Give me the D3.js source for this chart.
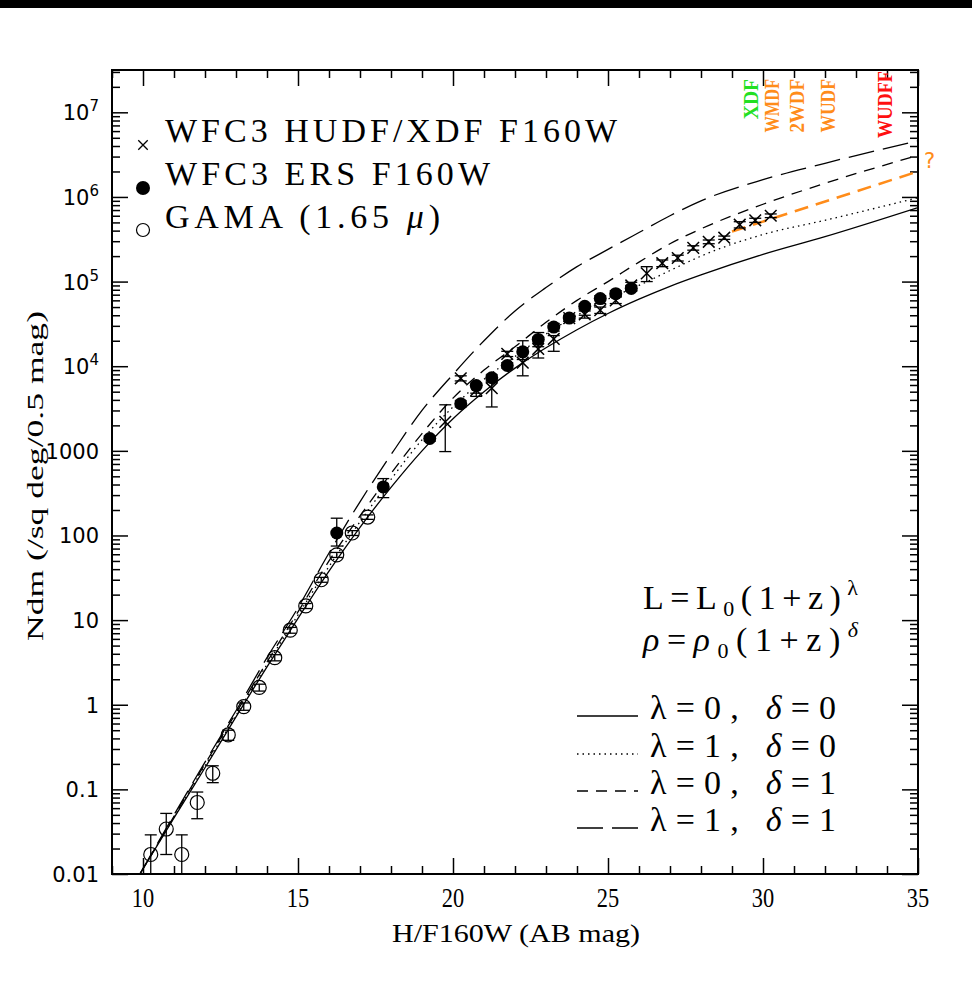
<!DOCTYPE html>
<html>
<head>
<meta charset="utf-8">
<script src="https://cdn.jsdelivr.net/npm/d3@7/dist/d3.min.js"></script>
<style>
  body { margin: 0; background: #fff; }
</style>
</head>
<body>
<script>
/* data */
// model curves (magnitude grid shared by the four models)
const modelMag = [9.9, 11, 12, 13, 14, 15, 16, 17, 18, 19, 20, 21, 22, 23, 24, 25, 26, 27, 28, 30, 32, 35];
const modelL0D0 = [0.01, 0.046, 0.18, 0.72, 2.8, 10.5, 38, 125, 370, 1000, 2400, 5000, 9500, 16500, 27000, 42000, 62000, 88000, 120000, 210000, 340000, 750000];
const modelL1D0 = [0.01, 0.047, 0.19, 0.75, 3.0, 11.5, 43, 145, 460, 1350, 3300, 7000, 13000, 24000, 40000, 62000, 90000, 135000, 200000, 360000, 530000, 980000];
const modelL0D1 = [0.01, 0.048, 0.2, 0.8, 3.2, 12.5, 50, 170, 540, 1600, 4200, 9000, 17000, 33000, 60000, 100000, 170000, 280000, 420000, 820000, 1450000, 3100000];
const modelL1D1 = [0.01, 0.05, 0.21, 0.85, 3.6, 14, 62, 250, 900, 3000, 8000, 20000, 45000, 85000, 150000, 240000, 380000, 600000, 900000, 1600000, 2500000, 4600000];

// extrapolation (orange, "?")
const extraMag = [29, 35];
const extraN = [390000, 2000000];

// WFC3 HUDF/XDF F160W (crosses)
const hudfMag = [19.75, 20.25, 20.75, 21.25, 21.75, 22.25, 22.75, 23.25, 23.75, 24.25, 24.75, 25.25, 25.75, 26.25, 26.75, 27.25, 27.75, 28.25, 28.75, 29.25, 29.75, 30.25];
const hudfN  = [2200, 7200, 5200, 5500, 14000, 11000, 16000, 21000, 37000, 41000, 46000, 60000, 90000, 125000, 165000, 190000, 250000, 295000, 330000, 470000, 530000, 600000];
const hudfLo = [980, 6700, 4400, 3300, 13000, 7700, 12500, 15000, 34000, 37000, 42000, 55000, 82000, 100000, 150000, 175000, 235000, 280000, 315000, 430000, 500000, 570000];
const hudfHi = [3500, 7700, 6000, 6500, 15000, 20000, 25000, 23000, 40000, 45000, 50000, 66000, 98000, 150000, 180000, 205000, 265000, 310000, 345000, 510000, 560000, 630000];

// WFC3 ERS F160W (filled circles)
const ersMag = [16.25, 17.75, 19.25, 20.25, 20.75, 21.25, 21.75, 22.25, 22.75, 23.25, 23.75, 24.25, 24.75, 25.25, 25.75];
const ersN  = [107, 375, 1400, 3600, 5900, 7300, 10200, 14800, 20700, 29000, 37000, 51000, 63000, 72000, 83000];
const ersLo = [75, 280, 1300, 3300, 4800, 6700, 9500, 12000, 17000, 26000, 34000, 40000, 55000, 66000, 77000];
const ersHi = [160, 470, 1500, 3900, 6300, 7900, 11000, 16500, 22000, 32000, 40000, 55000, 68000, 78000, 90000];

// GAMA 1.65 micron (open circles)
const gamaMag = [10.25, 10.75, 11.25, 11.75, 12.25, 12.75, 13.25, 13.75, 14.25, 14.75, 15.25, 15.75, 16.25, 16.75, 17.25];
const gamaN  = [0.017, 0.034, 0.017, 0.07, 0.155, 0.44, 0.95, 1.6, 3.6, 7.6, 14.7, 30, 59, 107, 165];
const gamaLo = [0.008, 0.017, 0.008, 0.045, 0.12, 0.38, 0.86, 1.45, 3.3, 7.0, 13.7, 28, 55, 100, 155];
const gamaHi = [0.029, 0.052, 0.029, 0.093, 0.19, 0.5, 1.05, 1.75, 3.9, 8.2, 15.7, 32, 63, 114, 175];

// survey depth labels along the top
const surveyNames = ["XDF", "WMDF", "2WDF", "WUDF", "WUDFF"];
const surveyMag = [29.6, 30.3, 31.1, 32.1, 33.95];
const surveyColors = ["#22e022", "#ff8c1a", "#ff8c1a", "#ff8c1a", "#ff1010"];

// axis ticks
const xMajor = [10, 15, 20, 25, 30, 35];
const yLabels = ["0.01", "0.1", "1", "10", "100", "1000", "10^4", "10^5", "10^6", "10^7"];
const yDecades = [0.01, 0.1, 1, 10, 100, 1000, 1e4, 1e5, 1e6, 1e7];
/* data */

const W = 972, H = 981;
const pLeft = 112, pTop = 70, pRight = 918, pBottom = 874;
const orange = "#ff8c1a";
const serif = "'Liberation Serif', 'DejaVu Serif', serif";

const svg = d3.select("body").append("svg")
  .attr("width", W)
  .attr("height", H)
  .style("font-family", serif);

svg.append("rect").attr("x", 0).attr("y", 0).attr("width", W).attr("height", 8).attr("fill", "#000");

let x = d3.scaleLinear().domain([9, 35]).range([pLeft, pRight]);
let y = d3.scaleLog().domain([0.01, Math.pow(10, 7.5)]).range([pBottom, pTop]);

svg.append("defs").append("clipPath").attr("id", "plot")
  .append("rect").attr("x", pLeft).attr("y", pTop).attr("width", pRight - pLeft).attr("height", pBottom - pTop);

/* axes */
const xMinor = d3.range(9, 36, 1).filter(d => !xMajor.includes(d));
const yMinor = y.ticks(10).filter(d => !yDecades.some(v => Math.abs(v - d) / v < 1e-6));

function tickAxis(axisFn, scale, values, size, transform) {
  svg.append("g")
    .attr("class", "ticks")
    .attr("transform", transform)
    .call(axisFn(scale).tickValues(values).tickSize(size).tickFormat(""))
    .call(g => g.select(".domain").remove())
    .call(g => g.selectAll("line").attr("stroke", "#000").attr("stroke-width", 1.5));
}
tickAxis(d3.axisBottom, x, xMajor, -16, `translate(0,${pBottom})`);
tickAxis(d3.axisBottom, x, xMinor, -8, `translate(0,${pBottom})`);
tickAxis(d3.axisTop, x, xMajor, -16, `translate(0,${pTop})`);
tickAxis(d3.axisTop, x, xMinor, -8, `translate(0,${pTop})`);
tickAxis(d3.axisLeft, y, yDecades, -16, `translate(${pLeft},0)`);
tickAxis(d3.axisLeft, y, yMinor, -8, `translate(${pLeft},0)`);
tickAxis(d3.axisRight, y, yDecades, -16, `translate(${pRight},0)`);
tickAxis(d3.axisRight, y, yMinor, -8, `translate(${pRight},0)`);

svg.append("rect")
  .attr("x", pLeft).attr("y", pTop)
  .attr("width", pRight - pLeft).attr("height", pBottom - pTop)
  .attr("fill", "none").attr("stroke", "#000").attr("stroke-width", 2);

// x tick labels (tall, narrow digits)
svg.append("g").selectAll("text")
  .data(xMajor)
  .join("text")
  .attr("transform", d => `translate(${x(d)},907) scale(0.8,1)`)
  .attr("text-anchor", "middle")
  .style("font-size", "28px")
  .text(d => d);

svg.append("text")
  .attr("x", 392)
  .attr("y", 942)
  .attr("textLength", 248)
  .attr("lengthAdjust", "spacingAndGlyphs")
  .style("font-size", "26px")
  .text("H/F160W (AB mag)");

// y tick labels
const yl = svg.append("g").style("font-family", "'DejaVu Sans', sans-serif").style("font-size", "21px");
yDecades.forEach((v, i) => {
  const t = yl.append("text")
    .attr("x", 99)
    .attr("y", y(v) + 8)
    .attr("text-anchor", "end");
  const parts = yLabels[i].split("^");
  if (parts.length === 2) {
    t.append("tspan").text(parts[0]);
    t.append("tspan").attr("dy", -9).style("font-size", "15px").text(parts[1]);
  } else {
    t.text(parts[0]);
  }
});

svg.append("text")
  .attr("transform", "translate(43,641) rotate(-90)")
  .attr("textLength", 330)
  .attr("lengthAdjust", "spacingAndGlyphs")
  .style("font-size", "24px")
  .text("Ndm (/sq deg/0.5 mag)");
/* axes */

/* curves */
const plot = svg.append("g").attr("clip-path", "url(#plot)");
const line = d3.line().x(d => x(d[0])).y(d => y(d[1])).curve(d3.curveMonotoneX);

const models = [
  { n: modelL0D0, dash: null },
  { n: modelL1D0, dash: "1.5,4" },
  { n: modelL0D1, dash: "11,8" },
  { n: modelL1D1, dash: "26,9" }
];
models.forEach(m => {
  plot.append("path")
    .attr("d", line(modelMag.map((d, i) => [d, m.n[i]])))
    .attr("fill", "none")
    .attr("stroke", "#000")
    .attr("stroke-width", 1.3)
    .attr("stroke-dasharray", m.dash);
});

plot.append("path")
  .attr("d", line(extraMag.map((d, i) => [d, extraN[i]])))
  .attr("fill", "none")
  .attr("stroke", orange)
  .attr("stroke-width", 2.5)
  .attr("stroke-dasharray", "14,8");

svg.append("text")
  .attr("x", 924).attr("y", 168)
  .style("font-family", "'DejaVu Sans', sans-serif")
  .style("font-size", "21px")
  .attr("fill", orange)
  .text("?");
/* curves */

/* points */
function errorBars(mag, lo, hi) {
  const g = plot.append("g").attr("stroke", "#000").attr("stroke-width", 1.3);
  mag.forEach((m, i) => {
    const cx = x(m), y1 = y(lo[i]), y2 = y(hi[i]);
    g.append("line").attr("x1", cx).attr("x2", cx).attr("y1", y1).attr("y2", y2);
    g.append("line").attr("x1", cx - 6).attr("x2", cx + 6).attr("y1", y1).attr("y2", y1);
    g.append("line").attr("x1", cx - 6).attr("x2", cx + 6).attr("y1", y2).attr("y2", y2);
  });
}
errorBars(gamaMag, gamaLo, gamaHi);
errorBars(ersMag, ersLo, ersHi);
errorBars(hudfMag, hudfLo, hudfHi);

plot.append("g").selectAll("circle")
  .data(gamaMag)
  .join("circle")
  .attr("cx", d => x(d))
  .attr("cy", (d, i) => y(gamaN[i]))
  .attr("r", 7)
  .attr("fill", "none")
  .attr("stroke", "#000")
  .attr("stroke-width", 1.2);

plot.append("g").selectAll("circle")
  .data(ersMag)
  .join("circle")
  .attr("cx", d => x(d))
  .attr("cy", (d, i) => y(ersN[i]))
  .attr("r", 6.5)
  .attr("fill", "#000");

const cross = d3.symbol().type(d3.symbolX).size(90);
plot.append("g").selectAll("path")
  .data(hudfMag)
  .join("path")
  .attr("transform", (d, i) => `translate(${x(d)},${y(hudfN[i])})`)
  .attr("d", cross)
  .attr("fill", "none")
  .attr("stroke", "#000")
  .attr("stroke-width", 1.5);
/* points */

/* survey labels */
svg.append("g").selectAll("text")
  .data(surveyNames)
  .join("text")
  .attr("transform", (d, i) => `translate(${x(surveyMag[i]) + 7},${d === "WUDFF" ? 71 : 79}) rotate(-90)`)
  .attr("text-anchor", "end")
  .attr("textLength", d => d.length * 13.4)
  .attr("lengthAdjust", "spacingAndGlyphs")
  .style("font-weight", "bold")
  .style("font-size", "21px")
  .attr("fill", (d, i) => surveyColors[i])
  .text(d => d);

/* data legend */
const leg = svg.append("g").style("font-size", "34px");
leg.append("path")
  .attr("transform", "translate(143,145)")
  .attr("d", d3.symbol().type(d3.symbolX).size(60))
  .attr("fill", "none").attr("stroke", "#000").attr("stroke-width", 1.3);
leg.append("circle").attr("cx", 143).attr("cy", 188).attr("r", 7).attr("fill", "#000");
leg.append("circle").attr("cx", 143).attr("cy", 230).attr("r", 6.5).attr("fill", "none").attr("stroke", "#000").attr("stroke-width", 1.2);
[["WFC3 HUDF/XDF F160W", 142, 452], ["WFC3 ERS F160W", 185, 325]].forEach(r => {
  leg.append("text").attr("x", 165).attr("y", r[1])
    .attr("textLength", r[2]).attr("lengthAdjust", "spacing")
    .text(r[0]);
});
const gl = leg.append("text").attr("x", 165).attr("y", 228)
  .attr("textLength", 275).attr("lengthAdjust", "spacing");
gl.append("tspan").text("GAMA (1.65 ");
gl.append("tspan").style("font-style", "italic").text("\u03bc");
gl.append("tspan").text(")");

/* model legend */
const ml = svg.append("g").style("font-size", "34px");
const f1 = ml.append("text").attr("x", 643).attr("y", 609)
  .attr("textLength", 215).attr("lengthAdjust", "spacing");
f1.append("tspan").text("L=L");
f1.append("tspan").attr("dy", 7).style("font-size", "22px").text("0");
f1.append("tspan").attr("dy", -7).text("(1+z)");
f1.append("tspan").attr("dy", -14).style("font-size", "22px").text("\u03bb");
const f2 = ml.append("text").attr("x", 643).attr("y", 651)
  .attr("textLength", 215).attr("lengthAdjust", "spacing");
f2.append("tspan").style("font-style", "italic").text("\u03c1");
f2.append("tspan").text("=");
f2.append("tspan").style("font-style", "italic").text("\u03c1");
f2.append("tspan").attr("dy", 7).style("font-size", "22px").text("0");
f2.append("tspan").attr("dy", -7).text("(1+z)");
f2.append("tspan").attr("dy", -14).style("font-size", "22px").style("font-style", "italic").text("\u03b4");

const modelLabels = [["0", "0"], ["1", "0"], ["0", "1"], ["1", "1"]];
const rowBase = [719, 757, 794, 831];
models.forEach((m, i) => {
  ml.append("line")
    .attr("x1", 577).attr("x2", 638)
    .attr("y1", rowBase[i] - 3).attr("y2", rowBase[i] - 3)
    .attr("stroke", "#000").attr("stroke-width", 1.3)
    .attr("stroke-dasharray", m.dash);
  const t = ml.append("text").attr("x", 650).attr("y", rowBase[i])
    .attr("textLength", 186).attr("lengthAdjust", "spacing");
  t.append("tspan").text("\u03bb=" + modelLabels[i][0] + ",  ");
  t.append("tspan").style("font-style", "italic").text("\u03b4");
  t.append("tspan").text("=" + modelLabels[i][1]);
});
</script>
</body>
</html>
